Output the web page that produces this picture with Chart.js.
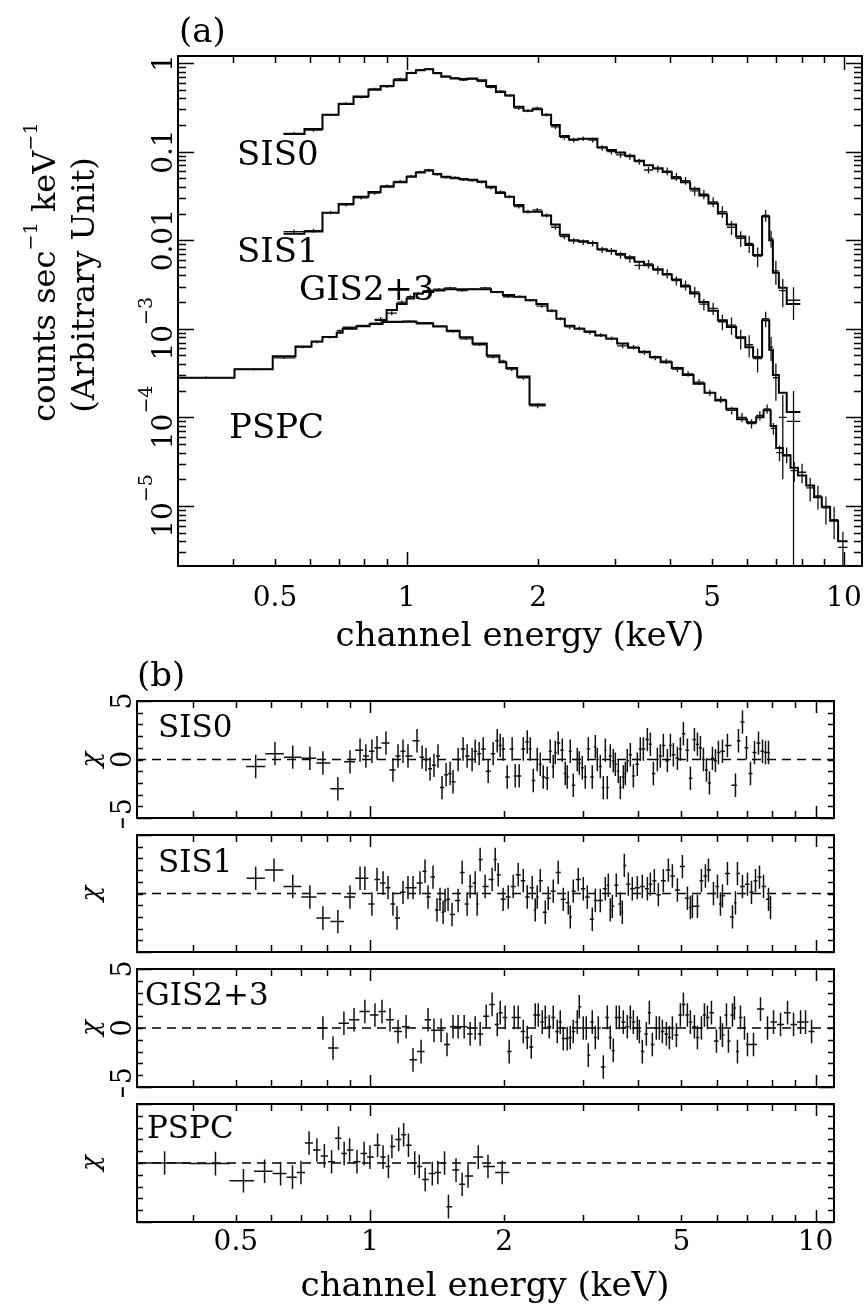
<!DOCTYPE html>
<html>
<head>
<meta charset="utf-8">
<script src="https://cdn.jsdelivr.net/npm/chart.js@4.4.1/dist/chart.umd.min.js"></script>
<style>
html, body { margin: 0; padding: 0; background: #fff; }
#wrap { position: relative; width: 867px; height: 1307px; overflow: hidden; }
#wrap canvas { position: absolute; left: 0; }
</style>
</head>
<body>
<div id="wrap">
  <canvas id="cSpec" width="867" height="662" style="top:0px"></canvas>
  <canvas id="cR1" width="867" height="183" style="top:645px"></canvas>
  <canvas id="cR2" width="867" height="143" style="top:819px"></canvas>
  <canvas id="cR3" width="867" height="144" style="top:953px"></canvas>
  <canvas id="cR4" width="867" height="219" style="top:1088px"></canvas>
</div>
<script>
// ---- spectra (panel a): bin edges (keV), model, data, fractional 1-sigma error ----
var sisEdges = [0.523,0.584,0.642,0.699,0.756,0.818,0.872,0.934,1.0,1.05,1.10,1.15,1.20,1.26,1.32,1.38,1.45,1.52,1.60,1.68,1.76,1.85,1.94,2.04,2.14,2.24,2.35,2.47,2.60,2.73,2.87,3.01,3.16,3.32,3.49,3.66,3.85,4.04,4.24,4.45,4.67,4.90,5.15,5.40,5.67,5.95,6.20,6.50,6.75,6.88,7.10,7.40,7.95];
var sis0Model = [0.158,0.18,0.26,0.344,0.42,0.50,0.55,0.64,0.77,0.83,0.85,0.77,0.70,0.67,0.66,0.67,0.64,0.55,0.47,0.43,0.32,0.29,0.30,0.26,0.20,0.15,0.137,0.14,0.14,0.112,0.104,0.098,0.090,0.079,0.070,0.065,0.059,0.050,0.045,0.038,0.032,0.026,0.020,0.015,0.011,0.0088,0.0068,0.0185,0.010,0.0043,0.0029,0.0019];
var sis0Data = [0.16,0.175,0.26,0.35,0.41,0.51,0.54,0.66,0.78,0.84,0.86,0.76,0.71,0.68,0.64,0.66,0.62,0.53,0.48,0.43,0.31,0.29,0.31,0.26,0.19,0.145,0.135,0.14,0.135,0.11,0.10,0.092,0.088,0.077,0.062,0.064,0.060,0.052,0.047,0.036,0.033,0.027,0.021,0.014,0.0105,0.0092,0.0066,0.019,0.0105,0.0045,0.0027,0.0021];
var sis0Err = [0.04,0.04,0.03,0.03,0.03,0.03,0.03,0.03,0.02,0.02,0.02,0.02,0.02,0.02,0.02,0.02,0.02,0.03,0.03,0.03,0.04,0.04,0.04,0.04,0.05,0.06,0.06,0.06,0.06,0.07,0.07,0.08,0.08,0.08,0.09,0.09,0.1,0.1,0.1,0.12,0.12,0.13,0.15,0.18,0.2,0.22,0.25,0.15,0.22,0.3,0.35,0.4];
var sis1Model = [0.0118,0.0125,0.0204,0.0256,0.031,0.035,0.040,0.045,0.052,0.058,0.061,0.056,0.052,0.050,0.049,0.048,0.046,0.040,0.034,0.031,0.025,0.021,0.021,0.019,0.015,0.0115,0.0100,0.0097,0.0093,0.0079,0.0076,0.0070,0.0064,0.0057,0.0052,0.0047,0.0041,0.0036,0.0030,0.0025,0.0020,0.0016,0.00125,0.00105,0.00080,0.00062,0.00048,0.00125,0.00058,0.00030,0.00019,0.000115];
var sis1Data = [0.0125,0.0128,0.0205,0.025,0.030,0.034,0.041,0.046,0.053,0.059,0.062,0.055,0.051,0.051,0.048,0.047,0.045,0.039,0.035,0.031,0.024,0.021,0.022,0.019,0.014,0.011,0.0098,0.0095,0.0092,0.0078,0.0075,0.0068,0.0062,0.0052,0.0054,0.0046,0.0042,0.0035,0.0031,0.0026,0.0019,0.0017,0.0012,0.0011,0.00078,0.00066,0.00046,0.0013,0.00062,0.00028,0.00010,0.00009];
var sis1Err = [0.05,0.05,0.04,0.04,0.04,0.04,0.04,0.04,0.03,0.03,0.03,0.03,0.03,0.03,0.03,0.03,0.03,0.04,0.04,0.04,0.05,0.05,0.05,0.05,0.06,0.07,0.07,0.07,0.08,0.08,0.09,0.09,0.1,0.1,0.11,0.11,0.12,0.12,0.13,0.14,0.15,0.16,0.2,0.22,0.25,0.28,0.3,0.2,0.3,0.45,0.8,1.2];
var gisEdges = [0.845,0.90,0.95,1.0,1.04,1.09,1.15,1.22,1.30,1.38,1.47,1.56,1.66,1.76,1.87,1.98,2.10,2.20,2.30,2.42,2.55,2.70,2.86,3.03,3.21,3.40,3.60,3.81,4.04,4.28,4.53,4.80,5.08,5.38,5.70,6.00,6.30,6.55,6.80,7.00,7.25,7.55,7.85,8.20,8.55,8.90,9.30,9.70,10.2];
var gisModel = [0.00126,0.00163,0.0019,0.0022,0.0025,0.0026,0.0027,0.0028,0.0028,0.0028,0.0028,0.0026,0.0024,0.0023,0.0021,0.0019,0.0016,0.0013,0.00108,0.00100,0.00093,0.00084,0.00077,0.00068,0.00061,0.00055,0.00048,0.00042,0.00036,0.00030,0.00024,0.00019,0.000155,0.000125,0.000095,0.000088,0.000100,0.000120,0.000080,0.000045,0.000037,0.000027,0.000022,0.000017,0.0000125,0.0000098,0.0000068,0.0000040];
var gisData = [0.00128,0.0015,0.0020,0.0023,0.0025,0.0027,0.0028,0.0029,0.0027,0.0028,0.0029,0.0026,0.0023,0.0023,0.0021,0.0018,0.0016,0.0013,0.00105,0.00101,0.00091,0.00085,0.00078,0.00064,0.00062,0.00054,0.00047,0.00043,0.00035,0.00031,0.00025,0.00019,0.00016,0.00012,0.00010,0.000085,0.000105,0.000125,0.000075,0.000040,0.000038,0.000025,0.000024,0.000016,0.000013,0.0000095,0.000007,0.0000034];
var gisErr = [0.06,0.05,0.04,0.04,0.04,0.04,0.03,0.03,0.03,0.03,0.03,0.03,0.03,0.03,0.03,0.04,0.04,0.04,0.05,0.05,0.05,0.05,0.05,0.06,0.06,0.06,0.06,0.07,0.07,0.07,0.08,0.08,0.09,0.1,0.12,0.12,0.12,0.12,0.15,0.2,0.2,0.25,0.25,0.3,0.3,0.35,0.4,0.5];
var pspcEdges = [0.30,0.404,0.494,0.557,0.606,0.642,0.692,0.714,0.768,0.823,0.881,0.979,1.054,1.15,1.235,1.322,1.415,1.525,1.63,1.69,1.79,1.91,2.08];
var pspcModel = [0.00028,0.00035,0.00049,0.00063,0.00072,0.00081,0.00090,0.00100,0.00107,0.00113,0.00119,0.00120,0.00115,0.00106,0.00095,0.00080,0.00068,0.00050,0.00042,0.00036,0.00029,0.00014];
var pspcData = [0.00028,0.00035,0.00047,0.00062,0.00071,0.00080,0.00095,0.00104,0.00109,0.00116,0.00121,0.00122,0.00117,0.00107,0.00093,0.00077,0.00066,0.00048,0.00043,0.00035,0.00028,0.000135];
var pspcErr = [0.03,0.03,0.03,0.03,0.03,0.03,0.03,0.02,0.02,0.02,0.02,0.02,0.02,0.02,0.03,0.03,0.03,0.04,0.04,0.05,0.05,0.06];

// ---- residuals (panel b): channel energy (keV) and chi ----
var sis0ResE = [0.554,0.612,0.671,0.733,0.784,0.847,0.902,0.950,0.979,1.010,1.037,1.086,1.126,1.156,1.186,1.217,1.275,1.309,1.336,1.364,1.392,1.421,1.451,1.482,1.513,1.536,1.577,1.618,1.652,1.695,1.722,1.758,1.795,1.842,1.890,1.930,1.960,1.990,2.032,2.085,2.118,2.162,2.208,2.254,2.289,2.325,2.373,2.411,2.448,2.499,2.538,2.578,2.605,2.645,2.701,2.743,2.771,2.815,2.859,2.919,2.949,2.995,3.042,3.090,3.154,3.204,3.237,3.288,3.339,3.374,3.409,3.462,3.516,3.553,3.608,3.646,3.703,3.742,3.780,3.840,3.900,3.981,4.043,4.107,4.193,4.258,4.325,4.415,4.484,4.554,4.650,4.723,4.796,4.897,4.973,5.051,5.157,5.237,5.347,5.431,5.516,5.602,5.690,5.779,5.869,5.961,6.054,6.181,6.342,6.610,6.714,6.854,6.998,7.144,7.294,7.446,7.602,7.721,7.842];
var sis0ResChi = [-0.6,0.5,0.2,0.1,-0.3,-2.5,-0.2,0.8,0.3,0.7,1.0,1.4,-0.9,0.3,0.7,0.3,1.6,0.2,0,-0.8,-0.5,0.3,-2.4,-1.3,-1.2,-1.9,0,0.9,0.3,0,0.7,0.5,0.9,-1.0,0.5,1.6,1.2,0.9,-1.5,0.9,-1.4,-1.4,0.9,1.5,0.9,-1.8,0,-0.4,-1.5,-1.6,0.7,-0.6,0.6,1.4,0.8,-1.2,-1.5,0.7,-2.2,0,-0.3,-0.7,-1.5,0.9,-1.5,1.1,0,-0.6,-2.4,0.8,-2.4,0.3,-0.1,-0.4,-1.0,-2.4,-1.5,-1.2,-0.1,0.4,-1.4,-0.4,0.9,0.9,1.7,1.3,-1.2,0,0.3,1.2,-0.1,1.2,0.4,0.1,0.9,2.2,0.8,-1.6,1.7,1.3,1.0,0,-0.9,-2.0,0.1,-0.1,0.6,0.7,1.2,-2.2,1.6,3.2,1.0,-1.2,0.6,1.4,0.7,0.6,0.6];
var sis1ResE = [0.554,0.609,0.671,0.733,0.784,0.847,0.902,0.950,0.974,1.010,1.037,1.070,1.098,1.126,1.150,1.186,1.217,1.249,1.295,1.329,1.350,1.385,1.414,1.436,1.459,1.474,1.497,1.528,1.577,1.610,1.652,1.678,1.722,1.740,1.767,1.813,1.880,1.910,1.940,1.990,2.043,2.096,2.151,2.208,2.254,2.313,2.349,2.373,2.411,2.474,2.512,2.578,2.645,2.715,2.786,2.815,2.859,2.934,3.011,3.074,3.154,3.204,3.288,3.374,3.427,3.462,3.498,3.571,3.646,3.684,3.722,3.800,3.879,3.981,4.085,4.193,4.258,4.347,4.438,4.554,4.674,4.772,4.897,5.025,5.157,5.237,5.292,5.431,5.544,5.660,5.749,5.900,6.023,6.117,6.181,6.342,6.509,6.610,6.679,6.854,7.034,7.181,7.332,7.485,7.642,7.842,7.923];
var sis1ResChi = [1.3,2.0,0.6,-0.3,-2.1,-2.4,-0.3,1.3,1.3,-0.9,1.2,0.9,0.5,-0.9,-2.1,0.1,0.5,0.5,0.9,1.9,-0.3,1.4,-1.4,-0.5,-1.6,-0.6,-0.5,-1.8,-0.6,1.8,-0.9,0.6,0.9,-0.9,2.9,0.6,1.2,2.9,1.6,-0.5,-0.3,0.6,1.6,1.1,-0.3,0.5,-1.4,-0.3,1.1,-1.6,-0.4,0.2,1.8,-0.5,-0.8,-2.0,0.2,1.2,0.4,-0.3,-2.2,-0.6,-0.6,0.4,0.7,-1.4,-1.1,0.7,-0.9,-1.6,2.4,0.8,0.4,0.5,0.6,0.4,0.8,1.1,-0.1,1.1,2.0,1.5,0.3,2.3,-0.4,-1.2,-1.1,-1.1,1.1,1.5,2.0,0,0.6,-0.9,-0.2,1.7,-2.0,-0.8,1.7,0.6,0.8,0.1,1.1,1.4,0.6,-0.5,-1.2];
var gisResE = [0.784,0.826,0.874,0.921,0.974,1.026,1.064,1.109,1.156,1.205,1.249,1.302,1.350,1.392,1.444,1.489,1.536,1.577,1.627,1.678,1.722,1.767,1.823,1.880,1.930,1.960,2.011,2.053,2.107,2.151,2.208,2.254,2.301,2.349,2.386,2.436,2.474,2.525,2.578,2.632,2.673,2.715,2.771,2.815,2.859,2.919,2.949,3.011,3.058,3.090,3.154,3.204,3.254,3.339,3.409,3.462,3.516,3.571,3.627,3.703,3.780,3.840,3.900,3.981,4.023,4.085,4.171,4.236,4.302,4.392,4.461,4.531,4.626,4.698,4.772,4.872,4.973,5.051,5.157,5.237,5.347,5.431,5.544,5.631,5.719,5.839,5.992,6.117,6.181,6.310,6.375,6.509,6.576,6.679,6.784,6.926,7.034,7.256,7.524,7.801,8.048,8.344,8.652,8.925,9.255,9.497,9.795];
var gisResChi = [0,-1.7,0.4,0.7,1.4,1.1,1.4,0.7,-0.3,0.1,-2.7,-2.0,0.7,-0.2,-0.2,-1.4,0.1,0.1,0.1,-0.5,0,-0.5,1.0,2.0,0.3,1.3,0.9,-2.0,0.9,0.9,-0.3,-0.8,-1.6,1.1,1.1,0.5,0.9,0.1,0.9,-0.3,0.5,-0.9,-0.9,-0.8,-0.3,0.5,1.8,0,0,-2.3,0.5,-0.8,0,-3.3,0.9,-0.8,-1.9,0.9,0.9,0.5,0.1,0.9,0.5,0,-0.3,-2.0,-0.5,1.3,-1.4,0,0,-0.3,-0.5,-0.8,0,-0.6,1.1,2.0,1.1,0.5,0.1,-0.8,0,1.1,0.9,1.3,-1.1,0,-0.6,1.1,-1.1,1.1,1.7,-2.0,0.9,0,-1.4,-1.4,1.6,0,0.5,0.3,1.3,0.3,0.5,0.5,-0.3];
var pspcResE = [0.346,0.45,0.52,0.58,0.63,0.67,0.70,0.73,0.76,0.79,0.82,0.85,0.875,0.90,0.935,0.97,1.0,1.04,1.07,1.10,1.12,1.16,1.19,1.22,1.26,1.29,1.33,1.38,1.42,1.47,1.50,1.56,1.61,1.66,1.75,1.84,1.98];
var pspcResChi = [0,-0.05,-1.5,-0.7,-0.9,-1.2,-0.8,1.7,1.1,0.6,0.1,2.1,0.8,1.1,0.1,0.8,0.5,1.5,0.5,-0.3,1.4,2.0,2.4,1.5,0,-0.3,-1.4,-0.9,-0.8,0,-3.7,-0.6,-1.8,-1.1,0.5,-0.3,-0.8];

// ---- axes ----
var energyRange = [0.3, 11];
var fluxRange = [2.1e-6, 1.2];
var chiRange = [-5, 5];
var xTickValues = [0.5, 1, 2, 5, 10];
var xTickLabels = ['0.5', '1', '2', '5', '10'];
var fluxTickValues = [1, 0.1, 0.01, 1e-3, 1e-4, 1e-5];
var fluxTickLabels = [[['1', 0]], [['0.1', 0]], [['0.01', 0]], [['10', 0], ['\u22123', 1]], [['10', 0], ['\u22124', 1]], [['10', 0], ['\u22125', 1]]];
var chiTickValues = [5, 0, -5];
var chiTickLabels = ['5', '0', '\u22125'];

var FONT = '"DejaVu Serif", "Liberation Serif", serif';
var INK = '#000';
var FRAMES = {};

function stepData(edges, vals) {
    var pts = vals.map(function(v, i) { return { x: edges[i], y: v }; });
    pts.push({ x: edges[edges.length - 1], y: vals[vals.length - 1] });
    return pts;
}
function crossData(edges, vals, errs) {
    return vals.map(function(v, i) {
        return { x: Math.sqrt(edges[i] * edges[i + 1]), y: v, xMin: edges[i], xMax: edges[i + 1],
                 yMin: v * (1 - errs[i]), yMax: v * (1 + errs[i]) };
    });
}
function residData(es, chis) {
    var n = es.length;
    return es.map(function(e, i) {
        var hi = i < n - 1 ? Math.sqrt(e * es[i + 1]) : e * e / Math.sqrt(es[i - 1] * e);
        var lo = i > 0 ? Math.sqrt(es[i - 1] * e) : e * e / hi;
        return { x: e, y: chis[i], xMin: lo, xMax: hi, yMin: chis[i] - 1, yMax: chis[i] + 1 };
    });
}

function drawRich(ctx, it) {
    var size = it.size, sc = it.supScale || 0.68, raise = it.supRaise || 0.55;
    var style = it.italic ? 'italic ' : '';
    ctx.save();
    ctx.translate(it.x, it.y);
    if (it.rot) ctx.rotate(-Math.PI / 2);
    var widths = it.parts.map(function(p) {
        ctx.font = style + (p[1] ? size * sc : size) + 'px ' + FONT;
        return ctx.measureText(p[0]).width;
    });
    var total = widths.reduce(function(a, b) { return a + b; }, 0);
    var cx = it.align === 'left' ? 0 : -total / 2;
    ctx.fillStyle = INK; ctx.textAlign = 'left'; ctx.textBaseline = 'alphabetic';
    it.parts.forEach(function(p, i) {
        ctx.font = style + (p[1] ? size * sc : size) + 'px ' + FONT;
        ctx.fillText(p[0], cx, p[1] ? -size * raise : 0);
        cx += widths[i];
    });
    ctx.restore();
}

var errorBarPlugin = {
    id: 'errorBars',
    afterDatasetsDraw: function(chart) {
        var ctx = chart.ctx, xs = chart.scales.x, ys = chart.scales.y, a = chart.chartArea;
        ctx.save();
        ctx.beginPath(); ctx.rect(a.left, a.top, a.right - a.left, a.bottom - a.top); ctx.clip();
        chart.data.datasets.forEach(function(ds) {
            if (!ds.errorBars) return;
            ctx.strokeStyle = ds.borderColor; ctx.lineWidth = ds.errWidth;
            ctx.beginPath();
            ds.data.forEach(function(p) {
                var px = xs.getPixelForValue(p.x), py = ys.getPixelForValue(p.y);
                var lo = p.yMin;
                if (ys.type === 'logarithmic' && lo < ys.min) lo = ys.min;
                ctx.moveTo(xs.getPixelForValue(p.xMin), py); ctx.lineTo(xs.getPixelForValue(p.xMax), py);
                ctx.moveTo(px, ys.getPixelForValue(lo)); ctx.lineTo(px, ys.getPixelForValue(p.yMax));
            });
            ctx.stroke();
        });
        ctx.restore();
    }
};

var framePlugin = {
    id: 'frame',
    afterDraw: function(chart) {
        var f = FRAMES[chart.canvas.id];
        if (!f) return;
        var ctx = chart.ctx, a = chart.chartArea, xs = chart.scales.x, ys = chart.scales.y;
        ctx.save();
        ctx.strokeStyle = INK;
        ctx.lineWidth = 1.5;
        ctx.beginPath();
        f.xTicks.forEach(function(t) {
            var px = Math.round(xs.getPixelForValue(t[0])) + 0.5, L = t[1] ? f.xMajorLen : f.xMinorLen;
            ctx.moveTo(px, a.bottom); ctx.lineTo(px, a.bottom - L);
            ctx.moveTo(px, a.top); ctx.lineTo(px, a.top + L);
        });
        f.yTicks.forEach(function(t) {
            var py = Math.round(ys.getPixelForValue(t[0])) + 0.5, L = t[1] ? f.yMajorLen : f.yMinorLen;
            ctx.moveTo(a.left, py); ctx.lineTo(a.left + L, py);
            ctx.moveTo(a.right, py); ctx.lineTo(a.right - L, py);
        });
        ctx.stroke();
        ctx.lineWidth = 2;
        ctx.strokeRect(a.left, a.top, a.right - a.left, a.bottom - a.top);
        if (f.xLabelY) {
            xTickValues.forEach(function(v, i) {
                drawRich(ctx, { parts: [[xTickLabels[i], 0]], x: xs.getPixelForValue(v), y: f.xLabelY, size: 28 });
            });
        }
        (f.yLabels || []).forEach(function(l) {
            drawRich(ctx, { parts: l.parts, x: f.yLabelX, y: ys.getPixelForValue(l.v), size: f.yLabelSize || 28, rot: true, supScale: 0.68, supRaise: 0.72 });
        });
        (f.texts || []).forEach(function(t) { drawRich(ctx, t); });
        ctx.restore();
    }
};

Chart.register(errorBarPlugin, framePlugin);

function logTicks(lo, hi) {
    var out = [];
    for (var d = -7; d <= 1; d++) {
        for (var k = 1; k <= 9; k++) {
            var v = k * Math.pow(10, d);
            if (v > lo * 1.001 && v < hi * 0.999) out.push([v, k === 1]);
        }
    }
    return out;
}
var energyTicks = logTicks(energyRange[0], energyRange[1]);
var fluxTicks = logTicks(fluxRange[0], fluxRange[1]);
var chiTicks = [];
for (var c = chiRange[0]; c <= chiRange[1]; c++) chiTicks.push([c, Math.abs(c) === 5]);

function makeChart(id, datasets, yType, yRange, pad) {
    return new Chart(document.getElementById(id), {
        type: 'line',
        data: { datasets: datasets },
        options: {
            responsive: false, animation: false, devicePixelRatio: 1, events: [],
            layout: { padding: pad },
            scales: {
                x: { type: 'logarithmic', min: energyRange[0], max: energyRange[1], display: false },
                y: { type: yType, min: yRange[0], max: yRange[1], display: false }
            },
            plugins: { legend: { display: false }, tooltip: { enabled: false } }
        }
    });
}

function modelSet(edges, vals) {
    return { data: stepData(edges, vals), stepped: true, borderColor: INK, borderWidth: 2, pointRadius: 0, fill: false };
}
function crossSet(data, w) {
    return { data: data, showLine: false, pointRadius: 0, borderColor: '#111', errorBars: true, errWidth: w };
}

// ---- panel (a) ----
var fluxLabels = fluxTickValues.map(function(v, i) { return { v: v, parts: fluxTickLabels[i] }; });
FRAMES.cSpec = {
    xTicks: energyTicks, xMajorLen: 14, xMinorLen: 7,
    yTicks: fluxTicks, yMajorLen: 16, yMinorLen: 8,
    xLabelY: 606, yLabels: fluxLabels, yLabelX: 172,
    texts: [
        { parts: [['(a)', 0]], x: 179, y: 42, size: 34, align: 'left' },
        { parts: [['SIS0', 0]], x: 237, y: 165, size: 34, align: 'left' },
        { parts: [['SIS1', 0]], x: 237, y: 262, size: 34, align: 'left' },
        { parts: [['GIS2+3', 0]], x: 299, y: 300, size: 34, align: 'left' },
        { parts: [['PSPC', 0]], x: 229, y: 438, size: 34, align: 'left' },
        { parts: [['channel energy (keV)', 0]], x: 520, y: 646, size: 34 },
        { parts: [['counts sec', 0], ['\u22121', 1], [' keV', 0], ['\u22121', 1]], x: 55, y: 272, size: 32, supScale: 0.6, supRaise: 0.55, rot: true },
        { parts: [['(Arbitrary Unit)', 0]], x: 94, y: 285, size: 32, rot: true }
    ]
};
makeChart('cSpec', [
    modelSet(sisEdges, sis0Model), modelSet(sisEdges, sis1Model),
    modelSet(gisEdges, gisModel), modelSet(pspcEdges, pspcModel),
    crossSet(crossData(sisEdges, sis0Data, sis0Err), 1.3), crossSet(crossData(sisEdges, sis1Data, sis1Err), 1.3),
    crossSet(crossData(gisEdges, gisData, gisErr), 1.3), crossSet(crossData(pspcEdges, pspcData, pspcErr), 1.3)
], 'logarithmic', fluxRange, { left: 178, right: 5, top: 56, bottom: 96 });

// ---- panel (b): four residual strips ----
var strips = [
    { id: 'cR1', top: 645, name: 'SIS0', nx: 158, ny: 737, res: residData(sis0ResE, sis0ResChi), labels: true, pad: { left: 137, right: 33, top: 56, bottom: 10 } },
    { id: 'cR2', top: 819, name: 'SIS1', nx: 158, ny: 872, res: residData(sis1ResE, sis1ResChi), labels: false, pad: { left: 137, right: 33, top: 16, bottom: 10 } },
    { id: 'cR3', top: 953, name: 'GIS2+3', nx: 145, ny: 1005, res: residData(gisResE, gisResChi), labels: true, pad: { left: 137, right: 33, top: 16, bottom: 10 } },
    { id: 'cR4', top: 1088, name: 'PSPC', nx: 147, ny: 1138, res: residData(pspcResE, pspcResChi), labels: false, pad: { left: 137, right: 33, top: 16, bottom: 85 } }
];
strips.forEach(function(s, i) {
    var texts = [{ parts: [[s.name, 0]], x: s.nx, y: s.ny - s.top, size: 31, align: 'left' }];
    if (i === 0) texts.push({ parts: [['(b)', 0]], x: 137, y: 686 - s.top, size: 34, align: 'left' });
    var h = document.getElementById(s.id).height;
    var mid = s.pad.top + (h - s.pad.top - s.pad.bottom) / 2;
    texts.push({ parts: [['\u03c7', 0]], x: 99, y: mid, size: 26, rot: true, italic: true });
    if (i === 3) texts.push({ parts: [['channel energy (keV)', 0]], x: 485, y: 1296 - s.top, size: 34 });
    FRAMES[s.id] = {
        xTicks: energyTicks, xMajorLen: 12, xMinorLen: 7,
        yTicks: chiTicks, yMajorLen: 15, yMinorLen: 6,
        xLabelY: i === 3 ? 1250 - s.top : 0,
        yLabels: s.labels ? chiTickValues.map(function(v, k) { return { v: v, parts: [[chiTickLabels[k], 0]] }; }) : [],
        yLabelX: 131, yLabelSize: 27,
        texts: texts
    };
    makeChart(s.id, [
        { data: [{ x: energyRange[0], y: 0 }, { x: energyRange[1], y: 0 }], borderColor: INK, borderWidth: 1.5, borderDash: [9, 6], pointRadius: 0, fill: false },
        crossSet(s.res, 1.5)
    ], 'linear', chiRange, s.pad);
});
</script>
</body>
</html>
